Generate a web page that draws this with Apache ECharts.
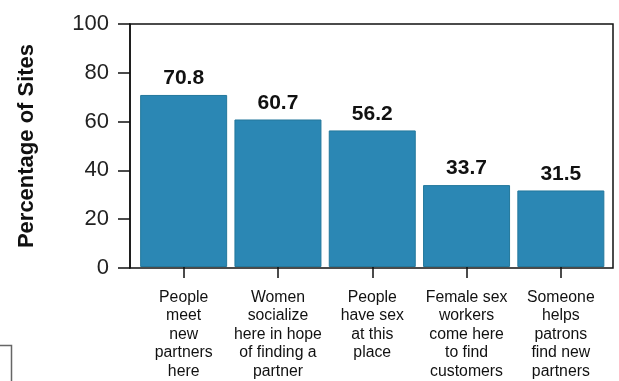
<!DOCTYPE html>
<html>
<head>
<meta charset="utf-8">
<script src="https://cdn.jsdelivr.net/npm/echarts@6/dist/echarts.min.js"></script>
<style>
html,body{margin:0;padding:0;background:#fff;}
#chart{width:619px;height:381px;}
</style>
</head>
<body>
<div id="chart"></div>
<script>
var categories = [
  "People\nmeet\nnew\npartners\nhere",
  "Women\nsocialize\nhere in hope\nof finding a\npartner",
  "People\nhave sex\nat this\nplace",
  "Female sex\nworkers\ncome here\nto find\ncustomers",
  "Someone\nhelps\npatrons\nfind new\npartners"
];
var values = [70.8, 60.7, 56.2, 33.7, 31.5];
var yAxisName = "Percentage of Sites";
var yMin = 0, yMax = 100, yStep = 20;

var FONT = "Liberation Sans, Arial, sans-serif";
var chart = echarts.init(document.getElementById('chart'), null, {renderer: 'canvas'});
chart.setOption({
  animation: false,
  backgroundColor: '#fff',
  grid: [
    {left: 130, right: 6, top: 24, bottom: 113, show: true, borderColor: '#111', borderWidth: 1.5, backgroundColor: 'transparent'},
    {left: 136.5, right: 11, top: 24, bottom: 113}
  ],
  xAxis: [
    {gridIndex: 0, type: 'value', min: 0, max: 1, show: false},
    {gridIndex: 1, type: 'category', data: categories,
     axisLine: {show: false},
     axisTick: {show: true, alignWithLabel: true, length: 11, lineStyle: {color: '#111', width: 1.5}},
     axisLabel: {interval: 0, margin: 21, fontFamily: FONT, fontSize: 15.8, lineHeight: 18.6, color: '#111', align: 'center'}
    }
  ],
  yAxis: [
    {gridIndex: 0, type: 'value', min: yMin, max: yMax, interval: yStep,
     name: yAxisName, nameLocation: 'middle', nameGap: 92,
     nameTextStyle: {fontFamily: FONT, fontSize: 22, fontWeight: 'bold', color: '#111'},
     axisLine: {show: true, lineStyle: {color: '#111', width: 1.5}},
     axisTick: {show: true, length: 12, lineStyle: {color: '#111', width: 1.5}},
     axisLabel: {margin: 21, fontFamily: FONT, fontSize: 22, color: '#222'},
     splitLine: {show: false}
    },
    {gridIndex: 1, type: 'value', min: yMin, max: yMax, interval: yStep, show: false, splitLine: {show: false}}
  ],
  series: [{
    type: 'bar', xAxisIndex: 1, yAxisIndex: 1,
    data: values, barWidth: 87,
    itemStyle: {color: '#2b87b4', borderColor: '#23789c', borderWidth: 1},
    label: {show: true, position: 'top', distance: 6, fontFamily: FONT, fontSize: 21, fontWeight: 'bold', color: '#111',
            formatter: function(p){ return p.value.toFixed(1); }}
  }],
  graphic: [
    {type: 'polyline', shape: {points: [[0, 345.5], [11.5, 345.5], [11.5, 381]]}, style: {stroke: '#666', lineWidth: 1.5, fill: null}}
  ]
});
</script>
</body>
</html>
